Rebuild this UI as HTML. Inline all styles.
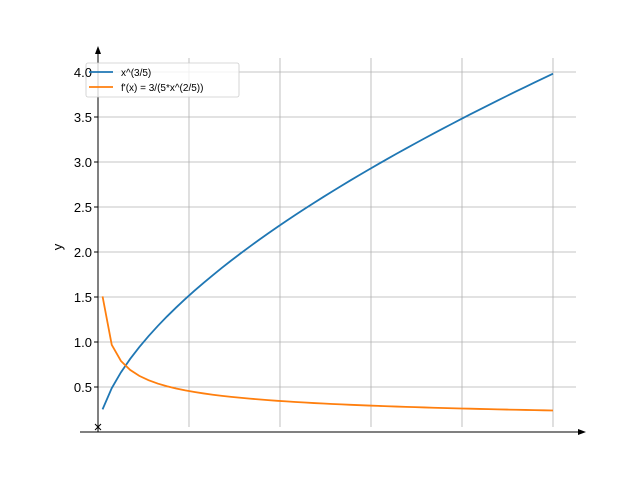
<!DOCTYPE html>
<html><head><style>
html,body{margin:0;padding:0;background:#fff;}
text{font-family:"Liberation Sans","DejaVu Sans",sans-serif;}
</style></head><body>
<svg id="s" width="640" height="480" xmlns="http://www.w3.org/2000/svg">
<g stroke="#b0b0b0" stroke-width="0.8">
<line x1="189" y1="58" x2="189" y2="427"/>
<line x1="280" y1="58" x2="280" y2="427"/>
<line x1="371" y1="58" x2="371" y2="427"/>
<line x1="462" y1="58" x2="462" y2="427"/>
<line x1="553" y1="58" x2="553" y2="427"/>
<line x1="98" y1="387" x2="576" y2="387"/>
<line x1="98" y1="342" x2="576" y2="342"/>
<line x1="98" y1="297" x2="576" y2="297"/>
<line x1="98" y1="252" x2="576" y2="252"/>
<line x1="98" y1="207" x2="576" y2="207"/>
<line x1="98" y1="162" x2="576" y2="162"/>
<line x1="98" y1="117" x2="576" y2="117"/>
<line x1="98" y1="72" x2="576" y2="72"/>
</g>
<g stroke="#000" stroke-width="1">
<line x1="98" y1="432" x2="98" y2="52"/>
<line x1="80" y1="432" x2="580" y2="432"/>
<line x1="94" y1="387" x2="98" y2="387"/><line x1="94" y1="342" x2="98" y2="342"/>
<line x1="94" y1="297" x2="98" y2="297"/><line x1="94" y1="252" x2="98" y2="252"/>
<line x1="94" y1="207" x2="98" y2="207"/><line x1="94" y1="162" x2="98" y2="162"/>
<line x1="94" y1="117" x2="98" y2="117"/><line x1="94" y1="72" x2="98" y2="72"/>
<line x1="95" y1="424" x2="101" y2="430"/><line x1="101" y1="424" x2="95" y2="430"/>
</g>
<polygon points="98,46 95,54 101,54" fill="#000"/>
<polygon points="586,432 578,429 578,435" fill="#000"/>
<path id="p1" fill="none" stroke="#1f77b4" stroke-width="1.8"/>
<path id="p2" fill="none" stroke="#ff7f0e" stroke-width="1.8"/>
<rect x="86" y="63" width="153" height="34" rx="2" fill="#fff" fill-opacity="0.8" stroke="#ccc" stroke-width="0.8"/>
<g font-size="13" text-anchor="end" fill="#000">
<text x="92" y="392">0.5</text><text x="92" y="347">1.0</text>
<text x="92" y="302">1.5</text><text x="92" y="257">2.0</text>
<text x="92" y="212">2.5</text><text x="92" y="167">3.0</text>
<text x="92" y="122">3.5</text><text x="92" y="77">4.0</text>
</g>
<text x="62" y="247" font-size="13" transform="rotate(-90 62 247)" text-anchor="middle">y</text>
<line x1="89" y1="72" x2="113" y2="72" stroke="#1f77b4" stroke-width="1.8"/>
<line x1="89" y1="87" x2="113" y2="87" stroke="#ff7f0e" stroke-width="1.8"/>
<text x="121" y="76" font-size="10">x^(3/5)</text>
<text x="121" y="91" font-size="10">f'(x) = 3/(5*x^(2/5))</text>
</svg>
<script>
var a="",b="";
for(var i=0;i<50;i++){var x=0.1+i*(9.9/49);var px=98+x*45.5;
var y1=Math.pow(x,0.6),y2=3/(5*Math.pow(x,0.4));
a+=(i?"L":"M")+px.toFixed(2)+","+(432-y1*90).toFixed(2);
b+=(i?"L":"M")+px.toFixed(2)+","+(432-y2*90).toFixed(2);}
document.getElementById("p1").setAttribute("d",a);
document.getElementById("p2").setAttribute("d",b);
</script>
</body></html>
